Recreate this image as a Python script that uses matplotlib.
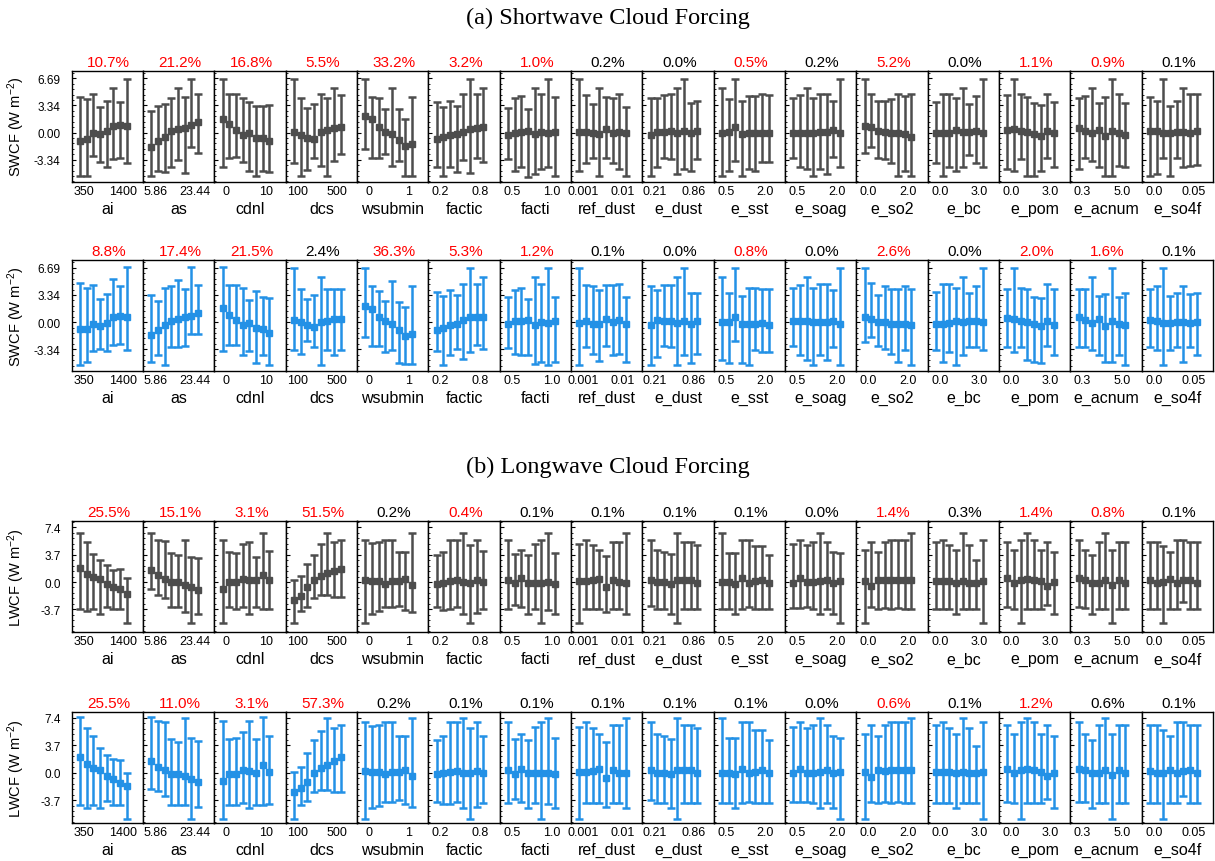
import numpy as np
import matplotlib.pyplot as plt
from matplotlib.ticker import AutoMinorLocator

plt.rcParams['font.family'] = ['Liberation Sans', 'DejaVu Sans']
plt.rcParams['mathtext.default'] = 'regular'

params = ['ai', 'as', 'cdnl', 'dcs', 'wsubmin', 'factic', 'facti', 'ref_dust',
          'e_dust', 'e_sst', 'e_soag', 'e_so2', 'e_bc', 'e_pom', 'e_acnum', 'e_so4f']
x_first = ['350', '5.86', '0', '100', '0', '0.2', '0.5', '0.001',
           '0.21', '0.5', '0.5', '0.0', '0.0', '0.0', '0.3', '0.0']
x_last = ['1400', '23.44', '10', '500', '1', '0.8', '1.0', '0.01',
          '0.86', '2.0', '2.0', '2.0', '3.0', '3.0', '5.0', '0.05']

# explained variance (%) per parameter, red = significant
sw1_pct = [10.7, 21.2, 16.8, 5.5, 33.2, 3.2, 1.0, 0.2, 0.0, 0.5, 0.2, 5.2, 0.0, 1.1, 0.9, 0.1]
sw1_red = [1, 1, 1, 1, 1, 1, 1, 0, 0, 1, 0, 1, 0, 1, 1, 0]
sw2_pct = [8.8, 17.4, 21.5, 2.4, 36.3, 5.3, 1.2, 0.1, 0.0, 0.8, 0.0, 2.6, 0.0, 2.0, 1.6, 0.1]
sw2_red = [1, 1, 1, 0, 1, 1, 1, 0, 0, 1, 0, 1, 0, 1, 1, 0]
lw1_pct = [25.5, 15.1, 3.1, 51.5, 0.2, 0.4, 0.1, 0.1, 0.1, 0.1, 0.0, 1.4, 0.3, 1.4, 0.8, 0.1]
lw1_red = [1, 1, 1, 1, 0, 1, 0, 0, 0, 0, 0, 1, 0, 1, 1, 0]
lw2_pct = [25.5, 11.0, 3.1, 57.3, 0.2, 0.1, 0.1, 0.1, 0.1, 0.1, 0.0, 0.6, 0.1, 1.2, 0.6, 0.1]
lw2_red = [1, 1, 1, 1, 0, 0, 0, 0, 0, 0, 0, 1, 0, 1, 0, 0]

# SWCF, first set: bin means, upper and lower ends
sw1_mean = [
    [-1.02, -0.82, -0.08, -0.20, 0.20, 0.82, 0.90, 0.82],
    [-1.83, -1.02, -0.49, 0.20, 0.49, 0.61, 0.90, 1.30],
    [1.63, 1.10, 0.33, -0.29, 0.00, -0.69, -0.69, -1.02],
    [0.12, -0.33, -0.61, -0.73, 0.08, 0.33, 0.61, 0.73],
    [2.04, 1.63, 0.73, 0.08, -0.20, -0.90, -1.63, -1.43],
    [-0.73, -0.53, -0.33, -0.12, 0.08, 0.41, 0.53, 0.69],
    [-0.29, 0.00, 0.12, 0.20, -0.20, 0.12, 0.00, 0.08],
    [0.08, 0.12, -0.08, -0.20, 0.41, 0.00, 0.12, -0.08],
    [-0.29, 0.12, 0.12, 0.20, 0.00, 0.20, -0.08, 0.20],
    [0.00, 0.12, 0.73, -0.20, -0.08, -0.08, -0.08, -0.08],
    [0.00, 0.00, 0.00, -0.08, 0.12, 0.08, 0.29, 0.00],
    [0.82, 0.69, 0.20, 0.08, -0.08, -0.08, -0.20, -0.49],
    [-0.08, -0.08, 0.00, 0.29, 0.08, 0.08, 0.20, 0.00],
    [0.33, 0.41, 0.20, 0.08, -0.20, -0.41, 0.20, -0.08],
    [0.61, 0.20, -0.08, 0.29, -0.41, 0.20, -0.08, -0.33],
    [0.20, 0.20, 0.00, 0.00, 0.08, 0.08, -0.08, 0.20],
]
sw1_hi = [
    [4.36, 4.08, 4.69, 3.14, 3.87, 5.50, 3.79, 6.65],
    [2.65, 3.26, 3.55, 4.28, 5.50, 4.40, 6.65, 4.69],
    [6.65, 4.69, 4.69, 4.28, 3.75, 3.26, 3.26, 3.38],
    [6.65, 4.28, 3.06, 3.55, 4.69, 4.20, 5.50, 4.61],
    [6.65, 4.40, 4.20, 2.85, 5.50, 2.94, 1.71, 4.40],
    [3.75, 3.18, 3.87, 3.26, 4.69, 6.65, 4.69, 5.50],
    [3.06, 4.20, 4.48, 2.85, 5.50, 4.69, 6.65, 4.40],
    [6.65, 4.61, 3.55, 5.50, 4.40, 4.28, 4.69, 3.18],
    [4.20, 4.20, 4.61, 4.69, 5.50, 6.65, 3.67, 3.87],
    [5.50, 4.08, 6.65, 3.87, 4.48, 4.48, 4.69, 4.61],
    [4.20, 4.61, 5.50, 4.20, 4.69, 4.69, 3.87, 6.65],
    [6.65, 4.77, 3.87, 3.87, 4.16, 4.69, 4.48, 4.77],
    [3.75, 4.69, 4.69, 4.20, 5.50, 3.55, 4.48, 6.65],
    [4.61, 6.65, 4.69, 4.40, 3.67, 3.38, 4.69, 3.75],
    [4.20, 4.48, 5.50, 3.67, 4.36, 6.65, 4.69, 3.67],
    [4.36, 3.87, 6.65, 3.26, 3.87, 5.50, 4.69, 4.69],
]
sw1_lo = [
    [-5.30, -5.38, -2.85, -3.67, -4.28, -3.26, -3.14, -3.75],
    [-5.30, -4.77, -4.81, -4.28, -3.34, -5.01, -1.83, -2.57],
    [-4.28, -3.14, -3.06, -3.67, -4.77, -5.38, -4.77, -4.81],
    [-3.79, -5.38, -4.61, -3.18, -4.08, -5.30, -3.47, -2.65],
    [-2.04, -3.18, -3.14, -2.65, -4.16, -3.47, -5.38, -5.38],
    [-4.28, -5.38, -4.28, -4.81, -3.34, -4.97, -3.18, -3.67],
    [-3.26, -4.77, -4.28, -5.42, -5.10, -4.48, -4.28, -5.38],
    [-4.77, -3.75, -3.18, -5.38, -3.18, -3.75, -4.48, -5.30],
    [-5.38, -4.28, -3.14, -3.26, -5.10, -4.48, -4.77, -3.26],
    [-5.38, -4.77, -3.47, -5.30, -4.48, -4.77, -3.67, -3.67],
    [-3.14, -4.28, -4.48, -5.38, -4.48, -5.10, -3.06, -4.28],
    [-2.57, -1.83, -3.18, -3.26, -3.75, -5.30, -4.77, -5.38],
    [-3.79, -5.30, -4.28, -4.77, -4.28, -2.77, -3.75, -4.28],
    [-4.48, -4.77, -3.26, -5.38, -5.30, -4.77, -3.14, -4.28],
    [-4.48, -3.14, -3.47, -4.28, -5.38, -5.38, -4.08, -4.28],
    [-5.38, -5.10, -3.18, -5.38, -3.18, -4.28, -4.08, -4.00],
]

# SWCF, second set
sw2_mean = [
    [-0.87, -0.81, -0.19, -0.42, -0.07, 0.65, 0.79, 0.65],
    [-1.62, -0.91, -0.40, 0.16, 0.40, 0.59, 0.75, 1.07],
    [1.74, 0.87, 0.28, -0.32, -0.12, -0.71, -0.79, -1.30],
    [0.28, 0.00, -0.32, -0.59, 0.00, 0.16, 0.36, 0.36],
    [1.98, 1.58, 0.67, 0.08, -0.20, -0.91, -1.70, -1.50],
    [-1.03, -0.71, -0.40, -0.24, 0.28, 0.59, 0.59, 0.67],
    [-0.24, 0.08, 0.20, 0.28, -0.40, 0.00, -0.12, 0.08],
    [-0.12, 0.08, -0.24, -0.24, 0.36, 0.00, 0.28, -0.24],
    [-0.40, 0.28, 0.20, 0.20, -0.12, 0.16, -0.20, 0.20],
    [0.00, 0.00, 0.67, -0.20, -0.20, -0.20, -0.12, -0.32],
    [0.08, 0.08, 0.08, -0.04, 0.00, -0.04, 0.16, -0.20],
    [0.59, 0.40, 0.00, -0.04, -0.24, -0.24, -0.20, -0.40],
    [-0.20, -0.20, -0.12, 0.20, 0.00, 0.08, 0.08, 0.00],
    [0.47, 0.40, 0.16, 0.00, -0.24, -0.51, 0.16, -0.32],
    [0.67, 0.28, -0.12, 0.36, -0.51, 0.16, -0.24, -0.40],
    [0.28, 0.20, -0.12, -0.12, 0.00, 0.00, -0.12, 0.00],
]
sw2_hi = [
    [4.84, 4.23, 4.56, 2.82, 3.43, 5.25, 4.43, 6.78],
    [3.34, 2.65, 4.15, 4.43, 5.16, 4.03, 6.78, 4.56],
    [6.78, 4.56, 4.56, 4.15, 2.73, 3.83, 3.14, 2.94],
    [6.69, 4.03, 2.84, 3.32, 5.50, 4.03, 4.10, 4.10],
    [6.69, 4.40, 3.83, 2.65, 5.00, 2.45, 1.86, 4.40],
    [3.75, 3.20, 3.90, 3.30, 4.70, 6.65, 4.70, 5.50],
    [3.04, 3.95, 4.23, 2.84, 5.50, 4.70, 6.69, 3.04],
    [6.69, 4.60, 4.40, 4.00, 4.60, 4.60, 4.70, 3.04],
    [4.50, 4.00, 4.60, 4.60, 5.50, 6.69, 3.60, 3.60],
    [5.50, 3.63, 6.69, 3.24, 4.23, 4.23, 4.10, 4.10],
    [4.20, 4.60, 5.50, 4.20, 4.70, 4.70, 3.90, 6.69],
    [6.69, 4.77, 3.32, 4.50, 4.10, 4.10, 4.50, 4.10],
    [3.75, 4.69, 4.69, 4.20, 5.50, 3.55, 4.48, 6.65],
    [4.03, 6.69, 4.23, 4.03, 3.04, 2.92, 4.69, 4.03],
    [4.03, 4.03, 5.50, 3.24, 3.44, 6.69, 3.04, 3.63],
    [4.03, 4.50, 6.69, 3.24, 3.63, 4.50, 3.44, 3.63],
]
sw2_lo = [
    [-5.25, -4.94, -3.59, -3.28, -3.59, -2.80, -2.69, -3.48],
    [-4.86, -3.99, -5.25, -3.08, -3.08, -2.88, -1.50, -1.50],
    [-3.59, -2.80, -2.80, -3.99, -3.59, -4.98, -3.99, -5.25],
    [-3.48, -3.95, -2.29, -3.08, -5.25, -3.48, -4.07, -3.48],
    [-1.78, -2.88, -2.96, -3.67, -3.48, -5.06, -5.17, -5.17],
    [-3.59, -5.25, -4.07, -3.28, -4.58, -3.67, -2.80, -3.28],
    [-3.16, -3.87, -4.07, -3.99, -5.14, -4.86, -5.25, -4.86],
    [-5.25, -3.00, -3.87, -4.74, -2.88, -4.07, -3.87, -4.86],
    [-5.25, -4.27, -2.88, -3.00, -5.25, -4.07, -5.06, -3.87],
    [-4.66, -5.06, -2.37, -5.06, -5.25, -3.48, -3.67, -3.67],
    [-2.88, -4.07, -4.66, -5.25, -4.07, -4.66, -3.08, -5.25],
    [-2.49, -1.82, -2.88, -3.28, -3.87, -4.94, -3.48, -5.25],
    [-3.48, -4.94, -3.67, -5.25, -4.07, -3.08, -3.08, -3.48],
    [-3.08, -3.67, -3.08, -4.66, -4.86, -5.06, -2.88, -3.99],
    [-3.08, -3.08, -3.48, -4.07, -4.86, -4.86, -3.99, -5.25],
    [-3.08, -3.48, -5.25, -3.48, -3.08, -4.86, -3.08, -3.99],
]

# LWCF, first set
lw1_mean = [
    [1.89, 1.13, 0.68, 0.45, -0.23, -0.68, -0.90, -1.58],
    [1.58, 0.90, 0.36, 0.00, 0.00, -0.36, -0.68, -1.13],
    [-0.90, 0.00, 0.00, 0.45, 0.32, 0.23, 0.90, 0.23],
    [-2.48, -1.89, -0.68, 0.23, 0.81, 1.26, 1.44, 1.71],
    [0.23, 0.14, 0.09, -0.23, 0.09, 0.14, 0.36, -0.45],
    [-0.23, -0.09, 0.14, 0.23, 0.00, -0.09, 0.23, 0.00],
    [0.32, -0.14, 0.59, -0.09, -0.09, -0.09, 0.00, -0.23],
    [0.09, 0.09, 0.23, 0.45, -0.68, 0.32, 0.00, -0.09],
    [0.32, 0.00, 0.00, -0.23, 0.32, 0.32, 0.32, -0.09],
    [0.00, 0.00, -0.23, 0.54, -0.09, 0.09, 0.32, -0.09],
    [-0.09, 0.54, 0.00, 0.00, 0.09, 0.32, -0.09, 0.09],
    [0.09, -0.59, 0.32, 0.23, 0.32, 0.32, 0.32, 0.32],
    [0.09, 0.09, 0.09, -0.09, 0.09, -0.09, -0.09, 0.09],
    [0.54, -0.09, 0.32, 0.45, 0.32, 0.09, -0.54, 0.00],
    [0.54, 0.32, -0.09, -0.09, 0.32, -0.36, 0.32, -0.09],
    [0.23, -0.09, 0.00, 0.36, -0.09, 0.23, 0.32, -0.09],
]
lw1_hi = [
    [6.63, 5.41, 3.83, 2.93, 2.26, 1.67, 1.80, 0.54],
    [6.63, 5.73, 5.55, 3.92, 3.61, 5.64, 3.38, 3.25],
    [5.64, 4.06, 3.97, 5.19, 5.41, 3.38, 6.63, 4.15],
    [0.23, 0.77, 2.48, 3.70, 5.19, 6.63, 5.41, 5.64],
    [5.73, 5.28, 5.41, 5.64, 5.64, 4.06, 4.06, 6.63],
    [3.61, 4.06, 5.64, 5.64, 6.63, 4.96, 5.64, 4.19],
    [5.64, 3.83, 4.28, 3.61, 5.19, 5.64, 6.63, 3.92],
    [5.19, 5.64, 4.96, 4.28, 3.47, 5.41, 5.41, 6.63],
    [5.73, 4.28, 4.06, 3.74, 6.63, 5.41, 5.41, 4.96],
    [6.63, 3.92, 3.92, 5.73, 5.73, 4.83, 4.83, 3.61],
    [5.19, 5.73, 4.96, 5.41, 6.63, 5.41, 4.06, 3.92],
    [4.28, 5.41, 4.06, 5.41, 5.73, 5.73, 5.73, 6.63],
    [5.41, 5.73, 4.96, 4.28, 6.63, 4.96, 3.02, 5.73],
    [5.41, 4.28, 5.73, 6.63, 5.73, 4.28, 5.41, 4.06],
    [5.73, 4.28, 3.61, 5.41, 6.63, 4.28, 5.41, 5.41],
    [5.41, 5.41, 4.83, 4.06, 5.73, 5.73, 5.41, 5.41],
]
lw1_lo = [
    [-3.61, -3.97, -3.70, -4.28, -3.38, -3.70, -3.61, -5.50],
    [-0.99, -1.71, -2.17, -3.38, -3.38, -4.06, -5.50, -4.28],
    [-5.50, -3.38, -3.61, -3.38, -4.28, -3.38, -3.61, -3.61],
    [-5.50, -3.97, -3.38, -2.17, -1.80, -1.80, -2.03, -2.03],
    [-5.50, -4.28, -3.97, -3.38, -3.38, -3.25, -3.83, -4.06],
    [-3.38, -3.83, -3.70, -3.38, -4.28, -5.50, -4.15, -3.61],
    [-3.61, -3.16, -3.38, -4.28, -3.61, -5.50, -3.83, -4.28],
    [-5.50, -3.61, -3.61, -3.61, -4.06, -3.61, -3.61, -4.28],
    [-3.25, -3.61, -3.61, -4.28, -5.50, -3.61, -3.61, -3.61],
    [-3.61, -3.61, -4.28, -3.61, -3.38, -3.61, -3.61, -3.61],
    [-3.52, -3.52, -3.38, -3.61, -4.28, -3.61, -4.28, -5.50],
    [-5.50, -3.38, -3.61, -3.52, -3.61, -3.52, -3.61, -3.61],
    [-3.61, -3.61, -3.61, -4.28, -3.61, -3.61, -3.61, -5.50],
    [-3.38, -3.61, -5.50, -3.61, -3.61, -3.61, -3.16, -4.28],
    [-3.38, -3.52, -4.28, -3.61, -3.61, -5.50, -3.61, -3.61],
    [-3.61, -3.61, -5.50, -3.61, -3.61, -2.71, -3.61, -3.61],
]

# LWCF, second set
lw2_mean = [
    [2.18, 1.13, 0.68, 0.36, -0.45, -0.91, -1.36, -1.82],
    [1.59, 0.82, 0.36, -0.23, -0.14, -0.45, -0.82, -1.27],
    [-1.14, -0.23, -0.23, 0.36, 0.23, 0.00, 1.00, 0.09],
    [-2.60, -2.10, -1.20, 0.00, 0.70, 1.10, 1.60, 2.10],
    [0.25, 0.15, 0.10, -0.20, 0.10, 0.15, 0.35, -0.45],
    [-0.20, -0.10, 0.15, 0.20, 0.00, -0.10, 0.20, 0.00],
    [0.30, -0.15, 0.55, -0.10, -0.10, -0.10, 0.00, -0.20],
    [0.10, 0.10, 0.20, 0.45, -0.65, 0.30, 0.00, -0.10],
    [0.30, 0.00, 0.00, -0.20, 0.30, 0.30, 0.30, -0.10],
    [0.00, 0.00, -0.20, 0.50, -0.10, 0.10, 0.30, -0.10],
    [-0.10, 0.50, 0.00, 0.00, 0.10, 0.30, -0.10, 0.10],
    [0.10, -0.60, 0.30, 0.20, 0.30, 0.30, 0.30, 0.30],
    [0.10, 0.10, 0.10, -0.10, 0.10, -0.10, -0.10, 0.10],
    [0.50, -0.10, 0.30, 0.45, 0.30, 0.10, -0.50, 0.00],
    [0.50, 0.30, -0.10, -0.10, 0.30, -0.35, 0.30, -0.10],
    [0.20, -0.10, 0.00, 0.35, -0.10, 0.20, 0.30, -0.10],
]
lw2_hi = [
    [7.49, 5.99, 4.99, 3.31, 2.36, 1.82, 1.72, 0.00],
    [7.49, 6.95, 6.81, 4.54, 4.18, 7.36, 4.63, 4.31],
    [6.95, 4.54, 4.63, 5.45, 6.95, 4.54, 7.49, 4.90],
    [0.10, 0.80, 2.70, 4.40, 5.60, 7.40, 6.10, 6.40],
    [6.90, 6.30, 6.50, 6.80, 6.80, 4.90, 4.90, 7.40],
    [4.40, 4.90, 6.80, 6.80, 7.40, 6.00, 6.80, 5.00],
    [6.80, 4.60, 5.20, 4.40, 6.20, 6.80, 7.40, 4.70],
    [6.20, 6.80, 6.00, 5.20, 4.20, 6.50, 6.50, 7.40],
    [6.90, 5.20, 4.90, 4.50, 7.40, 6.50, 6.50, 6.00],
    [7.40, 4.70, 4.70, 6.90, 6.90, 5.80, 5.80, 4.40],
    [6.20, 6.90, 6.00, 6.50, 7.40, 6.50, 4.90, 4.70],
    [5.20, 6.50, 4.90, 6.50, 6.90, 6.90, 6.90, 7.40],
    [6.50, 6.90, 6.00, 5.20, 7.40, 6.00, 3.60, 6.90],
    [6.50, 5.20, 6.90, 7.40, 6.90, 5.20, 6.50, 4.90],
    [6.90, 5.20, 4.40, 6.50, 7.40, 5.20, 6.50, 6.50],
    [6.50, 6.50, 5.80, 4.90, 6.90, 6.90, 6.50, 6.50],
]
lw2_lo = [
    [-4.31, -4.77, -4.31, -4.77, -3.86, -4.31, -4.31, -6.27],
    [-2.18, -2.50, -3.09, -4.31, -4.31, -4.31, -6.27, -4.68],
    [-6.27, -4.31, -4.31, -4.09, -4.77, -4.31, -4.31, -4.18],
    [-6.20, -4.40, -3.80, -2.60, -2.30, -2.40, -2.60, -2.60],
    [-6.20, -4.80, -4.50, -3.90, -3.90, -3.70, -4.30, -4.60],
    [-3.90, -4.30, -4.20, -3.90, -4.80, -6.20, -4.70, -4.10],
    [-4.10, -3.60, -3.90, -4.80, -4.10, -6.20, -4.30, -4.80],
    [-6.20, -4.10, -4.10, -4.10, -4.60, -4.10, -4.10, -4.80],
    [-3.70, -4.10, -4.10, -4.80, -6.20, -4.10, -4.10, -4.10],
    [-4.10, -4.10, -4.80, -4.10, -3.90, -4.10, -4.10, -4.10],
    [-4.00, -4.00, -3.90, -4.10, -4.80, -4.10, -4.80, -6.20],
    [-6.20, -3.90, -4.10, -4.00, -4.10, -4.00, -4.10, -4.10],
    [-4.10, -4.10, -4.10, -4.80, -4.10, -4.10, -4.10, -6.20],
    [-3.90, -4.10, -6.20, -4.10, -4.10, -4.10, -3.60, -4.80],
    [-3.90, -4.00, -4.80, -4.10, -4.10, -6.20, -4.10, -4.10],
    [-4.10, -4.10, -6.20, -4.10, -4.10, -3.10, -4.10, -4.10],
]

GRAY = '#4d4d4d'
BLUE = '#2391e6'

fig = plt.figure(figsize=(12.15, 8.62), dpi=100)

left0 = 71.7 / 1215
width = 71.33 / 1215
height = 0.1287


def draw_row(bottom, mean, hi, lo, pct, red, color, yticks, ylim, ylabel):
    x = np.arange(8)
    for j in range(16):
        ax = fig.add_axes([left0 + j * width, bottom, width, height])
        m = np.array(mean[j])
        h = np.array(hi[j])
        l = np.array(lo[j])
        ax.errorbar(x, m, yerr=[m - l, h - m], fmt='s', color=color, ecolor=color,
                    ms=4.3, elinewidth=1.8, capsize=3, capthick=1.8)
        ax.set_xlim(-1.25, 9.45)
        ax.set_ylim(*ylim)
        ax.set_xticks([0.57, 6.5])
        ax.set_xticklabels([x_first[j], x_last[j]])
        ax.tick_params(axis='x', length=0, pad=2, labelsize=9)
        ax.set_yticks(yticks)
        ax.yaxis.set_minor_locator(AutoMinorLocator(5))
        ax.tick_params(axis='y', which='major', direction='in', length=3,
                       width=0.8, labelsize=8.5, pad=8)
        ax.tick_params(axis='y', which='minor', direction='in', length=1.5, width=0.6)
        if j == 0:
            ax.set_yticklabels(ylabel[1])
        else:
            ax.set_yticklabels([])
        for s in ax.spines.values():
            s.set_linewidth(1.0)
        ax.text(0.52, 1.08, f'{pct[j]:.1f}%', transform=ax.transAxes,
                ha='center', va='center', fontsize=11,
                color='red' if red[j] else 'black')
        ax.text(0.5, -0.24, params[j], transform=ax.transAxes,
                ha='center', va='center', fontsize=11.5)
    fig.text(0.0137, bottom + height / 2, ylabel[0], rotation=90,
             ha='center', va='center', fontsize=10.5)


sw_ticks = [-3.34, 0.0, 3.34, 6.69]
sw_lab = ('SWCF (W m$^{-2}$)', ['-3.34', '0.00', '3.34', '6.69'])
lw_ticks = [-3.7, 0.0, 3.7, 7.4]
lw_lab = ('LWCF (W m$^{-2}$)', ['-3.7', '0.0', '3.7', '7.4'])

draw_row(0.7880, sw1_mean, sw1_hi, sw1_lo, sw1_pct, sw1_red, GRAY, sw_ticks, (-6.05, 7.6), sw_lab)
draw_row(0.5681, sw2_mean, sw2_hi, sw2_lo, sw2_pct, sw2_red, BLUE, sw_ticks, (-6.05, 7.6), sw_lab)
draw_row(0.2653, lw1_mean, lw1_hi, lw1_lo, lw1_pct, lw1_red, GRAY, lw_ticks, (-6.8, 8.2), lw_lab)
draw_row(0.0441, lw2_mean, lw2_hi, lw2_lo, lw2_pct, lw2_red, BLUE, lw_ticks, (-6.8, 8.2), lw_lab)

fig.text(0.5, 0.979, '(a) Shortwave Cloud Forcing', ha='center', va='center',
         fontsize=17.5, family='Liberation Serif')
fig.text(0.5, 0.458, '(b) Longwave Cloud Forcing', ha='center', va='center',
         fontsize=17.5, family='Liberation Serif')

fig.savefig('out.png', dpi=100)
